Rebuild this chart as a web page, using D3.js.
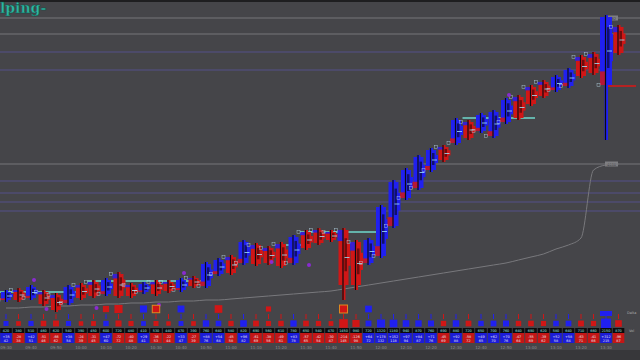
<!DOCTYPE html>
<html><head><meta charset="utf-8">
<script src="https://cdn.jsdelivr.net/npm/d3@7"></script>
<style>html,body{margin:0;padding:0;background:#454549;overflow:hidden}</style>
</head><body>
<svg id="c" width="640" height="360"></svg>
<script>
// ---- data ----
const barHigh  = [4510,4512,4515,4510,4507,4515,4517,4520,4522,4528,4517,4518,4520,4520,4522,4524,4538,4542,4545,4560,4557,4554,4558,4565,4570,4572,4570,4572,4560,4562,4595,4620,4632,4645,4652,4655,4682,4680,4687,4690,4702,4705,4715,4720,4725,4732,4745,4748,4785,4775];
const barLow   = [4498,4498,4500,4494,4488,4495,4500,4502,4504,4502,4502,4506,4504,4507,4508,4512,4512,4524,4525,4535,4534,4535,4532,4535,4550,4555,4558,4500,4510,4535,4542,4572,4600,4610,4628,4638,4655,4660,4667,4662,4676,4680,4694,4702,4708,4712,4722,4725,4660,4745];
const barOpen  = [4500,4510,4502,4508,4505,4497,4515,4518,4506,4526,4515,4508,4518,4518,4510,4522,4514,4526,4543,4537,4555,4552,4556,4537,4568,4570,4568,4570,4558,4537,4544,4574,4602,4612,4630,4653,4657,4678,4669,4664,4678,4703,4713,4718,4710,4714,4743,4746,4715,4773];
const barClose = [4508,4500,4513,4496,4490,4513,4502,4504,4520,4504,4504,4516,4506,4509,4520,4514,4536,4540,4527,4558,4536,4537,4534,4563,4552,4557,4560,4515,4515,4560,4593,4618,4630,4643,4650,4640,4680,4662,4685,4688,4700,4682,4696,4704,4723,4730,4724,4727,4783,4747];
const volume   = [420,380,510,460,620,540,390,450,600,720,480,410,530,440,470,390,760,640,580,820,690,560,610,780,650,540,470,1450,980,720,1320,1180,940,870,760,690,880,720,650,700,760,640,690,620,580,640,710,660,2150,870];
const delta    = [35,-28,42,-51,-66,38,-24,-31,47,-72,-40,29,-36,-22,33,-27,88,54,-45,96,-61,-38,-49,83,-57,-42,-30,-214,-126,64,178,152,97,84,71,-45,92,-58,49,62,70,-47,-55,-39,52,58,-63,-41,312,-96];
const cumVolume= [2,2,3,3,4,4,5,5,6,6,7,7,8,8,9,9,10,10,11,12,13,14,15,16,17,18,19,21,23,25,27,29,31,33,35,37,39,41,43,45,47,50,53,56,61,65,72,140,145,146];
const timeLabels = ["09:30","09:40","09:50","10:00","10:10","10:20","10:30","10:40","10:50","11:00","11:10","11:20","11:30","11:40","11:50","12:00","12:10","12:20","12:30","12:40","12:50","13:00","13:10","13:20","13:30"];
const grayLevels   = [4782,4766,4636];
const purpleLevels = [4748,4730,4619,4607,4598,4589];
const pocStart = [0,7,22,24,37];
const pocEnd   = [6,16,24,30,42];
const pocPrice = [4508,4519,4555,4568,4682];
const bigTradeBar  = [8,9,11,12,14,17,21,27,29];
const bigTradeSize = [-40,-90,60,-70,55,-75,-20,-85,50];
const dotBar   = [2,3,7,12,14,21,24,40];
const dotPrice = [4520,4491,4492,4495,4527,4538,4535,4705];
const titleText = "lping-";

// ---- drawing ----
const svg = d3.select("#c");
const W = 640, H = 360;
const x = d3.scaleLinear().domain([0, 49]).range([6, 618.5]);
const y = d3.scaleLinear().domain([4500, 4800]).range([300, 0]);
const cy = d3.scaleLinear().domain([0, 150]).range([310, 160]);
const sz = d3.scaleSqrt().domain([0, 320]).range([2.5, 10]);
const BLUE = "#2020f0", RED = "#d01616", DBLUE = "#10106e", DRED = "#700c0c";
const idx = d3.range(barHigh.length);

svg.append("rect").attr("width", W).attr("height", H).attr("fill", "#454549");
svg.append("rect").attr("width", W).attr("height", 2).attr("fill", "#1e1e20");
svg.append("rect").attr("y", 350).attr("width", W).attr("height", 10).attr("fill", "#37373a");

// level lines
svg.selectAll(".gl").data(grayLevels).join("line")
  .attr("x1", 0).attr("x2", W).attr("y1", d => y(d)).attr("y2", d => y(d))
  .attr("stroke", "#77777a").attr("stroke-width", 1);
svg.selectAll(".pl").data(purpleLevels).join("line")
  .attr("x1", 0).attr("x2", W).attr("y1", d => y(d)).attr("y2", d => y(d))
  .attr("stroke", "#55508a").attr("stroke-width", 1.2);
[grayLevels[0], grayLevels[2]].forEach(v => {
  svg.append("rect").attr("x", 605).attr("y", y(v) - 2.5).attr("width", 13).attr("height", 5)
    .attr("fill", "#7e7e82");
  svg.append("text").attr("x", 611.5).attr("y", y(v) + 1.5).attr("text-anchor", "middle")
    .attr("font-size", 3.5).attr("font-family", "DejaVu Sans").attr("fill", "#333").text(v);
});

// cumulative curve
svg.append("path").datum(idx)
  .attr("d", d3.line().x(i => x(i)).y(i => cy(cumVolume[i])).curve(d3.curveMonotoneX))
  .attr("fill", "none").attr("stroke", "#78787c").attr("stroke-width", 1);

// naked POC lines
svg.selectAll(".poc").data(pocPrice).join("line")
  .attr("x1", (d, i) => x(pocStart[i]) - 6).attr("x2", (d, i) => x(pocEnd[i]) + 4)
  .attr("y1", d => y(d)).attr("y2", d => y(d))
  .attr("stroke", "#6fd8cc").attr("stroke-width", 1.6);
svg.append("line").attr("x1", x(48)).attr("x2", 636)
  .attr("y1", y(barHigh[49] - 61)).attr("y2", y(barHigh[49] - 61))
  .attr("stroke", "#d21a1a").attr("stroke-width", 1.6);

// bars (footprint-like)
const g = svg.append("g");
idx.forEach(i => {
  const up = barClose[i] >= barOpen[i];
  const c = up ? BLUE : RED, dc = up ? DBLUE : DRED;
  const cx = x(i);
  const top = y(Math.max(barOpen[i], barClose[i])), bot = y(Math.min(barOpen[i], barClose[i]));
  const h = bot - top;
  const wBody = i === 48 ? 12 : 10;
  g.append("rect").attr("x", cx - 1.5).attr("width", 3.5)
    .attr("y", y(barHigh[i])).attr("height", y(barLow[i]) - y(barHigh[i])).attr("fill", c);
  g.append("rect").attr("x", cx - wBody / 2).attr("width", wBody)
    .attr("y", top).attr("height", Math.max(1, h)).attr("fill", c);
  g.append("rect").attr("x", cx + 2).attr("width", 5)
    .attr("y", top + h * 0.25).attr("height", Math.max(1, h * 0.4)).attr("fill", c);
  g.append("rect").attr("x", cx + 1).attr("width", 2.5)
    .attr("y", top + h * 0.15).attr("height", Math.max(1, h * 0.6)).attr("fill", dc);
  g.append("rect").attr("x", cx - 6).attr("width", 6)
    .attr("y", up ? bot - h * 0.2 : top).attr("height", Math.max(1, h * 0.2))
    .attr("fill", up ? RED : BLUE).attr("opacity", 0.85);
  g.append("line").attr("x1", cx - 0.5).attr("x2", cx - 0.5).attr("y1", y(barHigh[i])).attr("y2", y(barLow[i]))
    .attr("stroke", "#0c0c10").attr("stroke-width", 1.2);
  g.append("rect").attr("x", cx - 9).attr("y", y(barOpen[i]) - 1.5).attr("width", 3).attr("height", 3)
    .attr("fill", "none").attr("stroke", "#bde").attr("stroke-width", 0.5).attr("opacity", 0.8);
  g.append("line").attr("x1", cx + 1).attr("x2", cx + 6)
    .attr("y1", top + h / 2).attr("y2", top + h / 2)
    .attr("stroke", "#9fe8ff").attr("stroke-width", 0.8);
});

// purple dots
svg.selectAll(".dot").data(dotPrice).join("circle")
  .attr("cx", (d, i) => x(dotBar[i]) + 3).attr("cy", d => y(d)).attr("r", 2)
  .attr("fill", "#8a2bd0");

// row 1: big trades
svg.selectAll(".bt").data(bigTradeSize).join("rect")
  .attr("x", (d, i) => x(bigTradeBar[i]) - sz(Math.abs(d) * 2) / 2)
  .attr("y", d => 309 - sz(Math.abs(d) * 2) / 2)
  .attr("width", d => sz(Math.abs(d) * 2)).attr("height", d => sz(Math.abs(d) * 2))
  .attr("fill", d => d > 0 ? BLUE : RED)
  .attr("stroke", (d, i) => (i === 3 || i === 7) ? "#e08a20" : "none").attr("stroke-width", 1);

// row 2: delta squares
idx.forEach(i => {
  const d = delta[i], s = sz(Math.abs(d)), c = d > 0 ? BLUE : RED;
  svg.append("line").attr("x1", x(i)).attr("x2", x(i)).attr("y1", 314).attr("y2", 319)
    .attr("stroke", c).attr("stroke-width", 1);
  if (i === 48) {
    svg.append("rect").attr("x", x(i) - 6).attr("y", 311).attr("width", 12).attr("height", 5).attr("fill", c);
  }
  svg.append("rect").attr("x", x(i) - s / 2).attr("y", 323.5 - s / 2).attr("width", s).attr("height", s)
    .attr("fill", c);
});

// table
const cellW = 11.6;
idx.forEach(i => {
  const d = delta[i], c = d > 0 ? "#1c1cd8" : "#c41616";
  const cx = x(i);
  svg.append("rect").attr("x", cx - cellW / 2).attr("y", 328).attr("width", cellW).attr("height", 5)
    .attr("fill", "#0c0c0e");
  svg.append("rect").attr("x", cx - cellW / 2).attr("y", 333).attr("width", cellW).attr("height", 10)
    .attr("fill", c);
  svg.append("text").attr("x", cx).attr("y", 332).attr("text-anchor", "middle")
    .attr("font-size", 3.4).attr("font-family", "DejaVu Sans").attr("fill", "#9fe8e0").text(volume[i]);
  svg.append("text").attr("x", cx).attr("y", 337.5).attr("text-anchor", "middle")
    .attr("font-size", 3.4).attr("font-family", "DejaVu Sans").attr("fill", "#e8e8f0").text(d > 0 ? "+" + d : d);
  svg.append("text").attr("x", cx).attr("y", 341.5).attr("text-anchor", "middle")
    .attr("font-size", 3.4).attr("font-family", "DejaVu Sans").attr("fill", "#e8e8f0")
    .text(Math.round(volume[i] / 10));
});
svg.append("text").attr("x", 629).attr("y", 332).attr("font-size", 3.5).attr("font-family", "DejaVu Sans")
  .attr("fill", "#aaa").text("Vol");
svg.append("text").attr("x", 627).attr("y", 314).attr("font-size", 3.5).attr("font-family", "DejaVu Sans")
  .attr("fill", "#aaa").text("Delta");

// time labels
svg.selectAll(".tl").data(timeLabels).join("text")
  .attr("x", (d, i) => x(i * 2)).attr("y", 348.5).attr("text-anchor", "middle")
  .attr("font-size", 4).attr("font-family", "DejaVu Sans").attr("fill", "#8c8c90").text(d => d);

// title
svg.append("text").attr("x", 0).attr("y", 13).attr("font-family", "DejaVu Serif").attr("font-weight", "bold")
  .attr("font-size", 14).attr("fill", "#2fb8a2").attr("stroke", "#0d4a44").attr("stroke-width", 0.4)
  .text(titleText);
</script>
</body></html>
